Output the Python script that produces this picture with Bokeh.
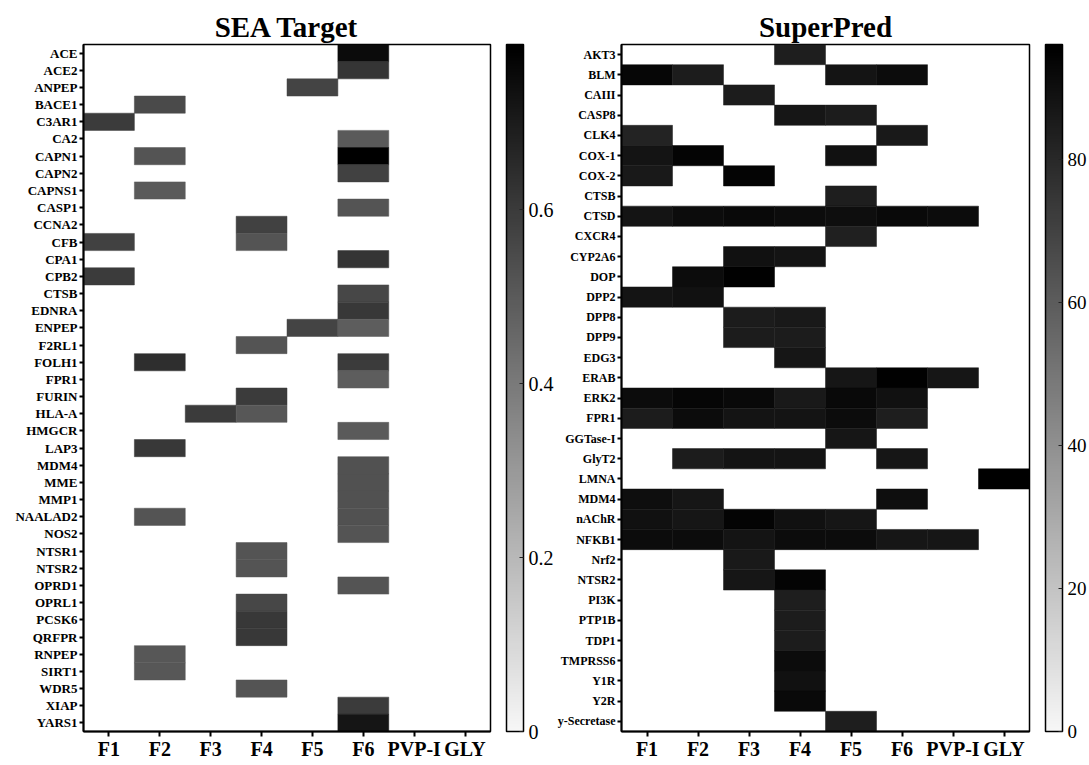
import numpy as np
from bokeh.plotting import figure
from bokeh.models import ColumnDataSource, LinearColorMapper, ColorBar, FixedTicker, FactorRange
from bokeh.layouts import row
from bokeh.embed import file_html
from bokeh.resources import INLINE

formulations = ["F1", "F2", "F3", "F4", "F5", "F6", "PVP-I", "GLY"]

sea_targets = ["ACE", "ACE2", "ANPEP", "BACE1", "C3AR1", "CA2", "CAPN1", "CAPN2", "CAPNS1", "CASP1",
               "CCNA2", "CFB", "CPA1", "CPB2", "CTSB", "EDNRA", "ENPEP", "F2RL1", "FOLH1", "FPR1",
               "FURIN", "HLA-A", "HMGCR", "LAP3", "MDM4", "MME", "MMP1", "NAALAD2", "NOS2", "NTSR1",
               "NTSR2", "OPRD1", "OPRL1", "PCSK6", "QRFPR", "RNPEP", "SIRT1", "WDR5", "XIAP", "YARS1"]
sea_cell_target = ["ACE", "ACE2", "ANPEP", "BACE1", "C3AR1", "CA2", "CAPN1", "CAPN1", "CAPN2", "CAPNS1",
                   "CASP1", "CCNA2", "CFB", "CFB", "CPA1", "CPB2", "CTSB", "EDNRA", "ENPEP", "ENPEP",
                   "F2RL1", "FOLH1", "FOLH1", "FPR1", "FURIN", "HLA-A", "HLA-A", "HMGCR", "LAP3", "MDM4",
                   "MME", "MMP1", "NAALAD2", "NAALAD2", "NOS2", "NTSR1", "NTSR2", "OPRD1", "OPRL1", "PCSK6",
                   "QRFPR", "RNPEP", "SIRT1", "WDR5", "XIAP", "YARS1"]
sea_cell_form = ["F6", "F6", "F5", "F2", "F1", "F6", "F2", "F6", "F6", "F2",
                 "F6", "F4", "F1", "F4", "F6", "F1", "F6", "F6", "F5", "F6",
                 "F4", "F2", "F6", "F6", "F4", "F3", "F4", "F6", "F2", "F6",
                 "F6", "F6", "F2", "F6", "F6", "F4", "F4", "F6", "F4", "F4",
                 "F4", "F2", "F2", "F4", "F6", "F6"]
sea_cell_value = [0.75, 0.62, 0.57, 0.55, 0.60, 0.50, 0.52, 0.79, 0.58, 0.50,
                  0.52, 0.58, 0.58, 0.52, 0.62, 0.60, 0.56, 0.61, 0.57, 0.49,
                  0.52, 0.64, 0.60, 0.49, 0.60, 0.60, 0.51, 0.50, 0.61, 0.53,
                  0.53, 0.53, 0.52, 0.53, 0.52, 0.52, 0.52, 0.52, 0.56, 0.61,
                  0.61, 0.51, 0.51, 0.52, 0.60, 0.72]
sea_bar_ticks = [0, 0.2, 0.4, 0.6]

sp_targets = ["AKT3", "BLM", "CAIII", "CASP8", "CLK4", "COX-1", "COX-2", "CTSB", "CTSD", "CXCR4",
              "CYP2A6", "DOP", "DPP2", "DPP8", "DPP9", "EDG3", "ERAB", "ERK2", "FPR1", "GGTase-I",
              "GlyT2", "LMNA", "MDM4", "nAChR", "NFKB1", "Nrf2", "NTSR2", "PI3K", "PTP1B", "TDP1",
              "TMPRSS6", "Y1R", "Y2R", "y-Secretase"]
sp_cell_target = ["AKT3",
                  "BLM", "BLM", "BLM", "BLM",
                  "CAIII",
                  "CASP8", "CASP8",
                  "CLK4", "CLK4",
                  "COX-1", "COX-1", "COX-1",
                  "COX-2", "COX-2",
                  "CTSB",
                  "CTSD", "CTSD", "CTSD", "CTSD", "CTSD", "CTSD", "CTSD",
                  "CXCR4",
                  "CYP2A6", "CYP2A6",
                  "DOP", "DOP",
                  "DPP2", "DPP2",
                  "DPP8", "DPP8",
                  "DPP9", "DPP9",
                  "EDG3",
                  "ERAB", "ERAB", "ERAB",
                  "ERK2", "ERK2", "ERK2", "ERK2", "ERK2", "ERK2",
                  "FPR1", "FPR1", "FPR1", "FPR1", "FPR1", "FPR1",
                  "GGTase-I",
                  "GlyT2", "GlyT2", "GlyT2", "GlyT2",
                  "LMNA",
                  "MDM4", "MDM4", "MDM4",
                  "nAChR", "nAChR", "nAChR", "nAChR", "nAChR",
                  "NFKB1", "NFKB1", "NFKB1", "NFKB1", "NFKB1", "NFKB1", "NFKB1",
                  "Nrf2",
                  "NTSR2", "NTSR2",
                  "PI3K", "PTP1B", "TDP1", "TMPRSS6", "Y1R", "Y2R", "y-Secretase"]
sp_cell_form = ["F4",
                "F1", "F2", "F5", "F6",
                "F3",
                "F4", "F5",
                "F1", "F6",
                "F1", "F2", "F5",
                "F1", "F3",
                "F5",
                "F1", "F2", "F3", "F4", "F5", "F6", "PVP-I",
                "F5",
                "F3", "F4",
                "F2", "F3",
                "F1", "F2",
                "F3", "F4",
                "F3", "F4",
                "F4",
                "F5", "F6", "PVP-I",
                "F1", "F2", "F3", "F4", "F5", "F6",
                "F1", "F2", "F3", "F4", "F5", "F6",
                "F5",
                "F2", "F3", "F4", "F6",
                "GLY",
                "F1", "F2", "F6",
                "F1", "F2", "F3", "F4", "F5",
                "F1", "F2", "F3", "F4", "F5", "F6", "PVP-I",
                "F3",
                "F3", "F4",
                "F4", "F4", "F4", "F4", "F4", "F4", "F5"]
sp_cell_value = [84,
                 93, 85, 88, 91,
                 85,
                 87, 85,
                 82, 86,
                 88, 94, 89,
                 86, 94,
                 84,
                 88, 91, 92, 91, 90, 92, 91,
                 83,
                 89, 88,
                 91, 95,
                 88, 89,
                 85, 86,
                 85, 85,
                 87,
                 87, 95, 87,
                 91, 93, 92, 86, 92, 89,
                 85, 91, 88, 88, 91, 84,
                 87,
                 85, 88, 88, 87,
                 96,
                 90, 87, 90,
                 89, 87, 94, 89, 87,
                 91, 91, 88, 91, 91, 87, 87,
                 86,
                 87, 94,
                 84, 85, 85, 91, 89, 92, 84]
sp_bar_ticks = [0, 20, 40, 60, 80]

FONT = "Liberation Serif"
H = 764
TOP = 44
BOTTOM = 33
FRAME_H = H - TOP - BOTTOM
gray_palette = ["#%02x%02x%02x" % (g, g, g) for g in np.linspace(247, 0, 256).astype(int)]


def make_heatmap(title, targets, cell_t, cell_f, cell_v, mapper, width, border_left, ylab_size,
                 title_offset):
    src = ColumnDataSource(dict(t=cell_t, f=cell_f, v=cell_v))
    p = figure(x_range=FactorRange(*formulations, range_padding=0),
               y_range=FactorRange(*list(reversed(targets)), range_padding=0),
               width=width, height=H, output_backend="svg", toolbar_location=None,
               min_border_left=border_left, min_border_top=TOP, min_border_bottom=BOTTOM,
               min_border_right=2, title=title)
    p.rect(x="f", y="t", width=1, height=1, source=src,
           fill_color={"field": "v", "transform": mapper},
           line_color={"field": "v", "transform": mapper}, line_width=0.5)
    p.title.text_font = FONT
    p.title.text_font_size = "29px"
    p.title.text_font_style = "bold"
    p.title.align = "center"
    p.title.offset = title_offset
    p.title.standoff = 4
    p.title.text_color = "black"
    p.xgrid.visible = False
    p.ygrid.visible = False
    p.outline_line_color = "black"
    p.outline_line_width = 1.5
    for ax in (p.xaxis[0], p.yaxis[0]):
        ax.axis_line_width = 2
        ax.axis_line_color = "black"
        ax.major_tick_line_width = 2
        ax.major_tick_line_color = "black"
        ax.major_tick_out = 5
        ax.major_tick_in = 0
        ax.major_label_text_font = FONT
        ax.major_label_text_font_style = "bold"
        ax.major_label_text_color = "black"
    p.xaxis.major_label_standoff = 1
    p.yaxis.major_label_standoff = 2
    p.yaxis.major_tick_out = 4
    p.xaxis.major_label_text_font_size = "20px"
    p.yaxis.major_label_text_font_size = ylab_size
    return p


def make_colorbar(mapper, ticks, width, bar_x, label_size):
    c = figure(width=width, height=H, output_backend="svg", toolbar_location=None,
               min_border_left=0, min_border_right=0, min_border_top=TOP, min_border_bottom=BOTTOM)
    c.axis.visible = False
    c.grid.visible = False
    c.outline_line_color = None
    cb = ColorBar(color_mapper=mapper, ticker=FixedTicker(ticks=ticks), width=17, height=FRAME_H,
                  location=(bar_x, 0), margin=0, padding=0, label_standoff=5,
                  major_label_text_font=FONT, major_label_text_font_size=label_size,
                  major_label_text_color="black",
                  major_tick_line_color="#222222", major_tick_in=4, major_tick_out=0,
                  bar_line_color="black", bar_line_width=1.5,
                  border_line_color=None, background_fill_alpha=0)
    c.add_layout(cb, "center")
    return c


sea_mapper = LinearColorMapper(palette=gray_palette, low=0, high=0.79)
sp_mapper = LinearColorMapper(palette=gray_palette, low=0, high=96)

p1 = make_heatmap("SEA Target", sea_targets, sea_cell_target, sea_cell_form, sea_cell_value,
                  sea_mapper, 492, 83, "13px", -8)
c1 = make_colorbar(sea_mapper, sea_bar_ticks, 62, 14, "20px")
p2 = make_heatmap("SuperPred", sp_targets, sp_cell_target, sp_cell_form, sp_cell_value,
                  sp_mapper, 477, 67, "12px", 4)
c2 = make_colorbar(sp_mapper, sp_bar_ticks, 57, 14, "19px")

layout = row(p1, c1, p2, c2)
open("out.html", "w").write(file_html(layout, INLINE))
